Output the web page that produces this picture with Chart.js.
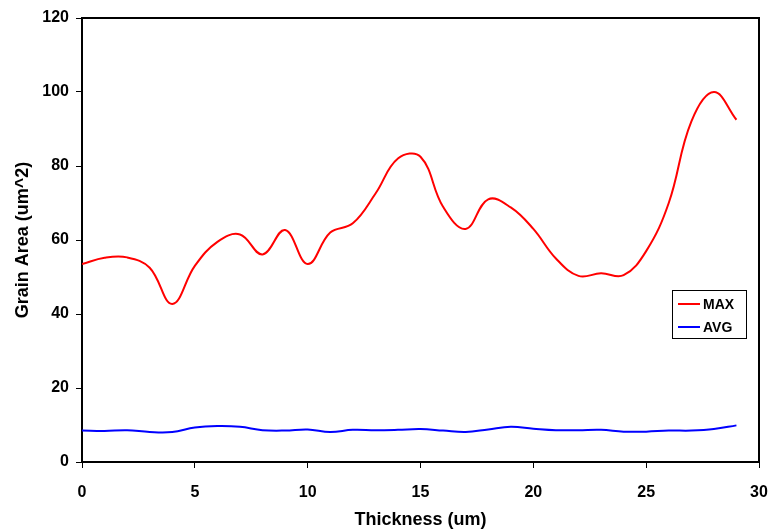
<!DOCTYPE html>
<html>
<head>
<meta charset="utf-8">
<script src="https://cdn.jsdelivr.net/npm/chart.js@4"></script>
<style>
    html, body { margin: 0; padding: 0; background: #fff; }
    #wrap { width: 770px; height: 529px; }
</style>
</head>
<body>
<div id="wrap"><canvas id="grainChart" width="770" height="529"></canvas></div>
<script>
// thickness positions (um)
const thickness = [0, 1, 2, 3, 4, 5, 6, 7, 8, 9, 10, 11, 12, 13, 14,
    15, 16, 17, 18, 19, 20, 21, 22, 23, 24, 25, 26, 27, 28, 29];

const maxArea = [53.5, 55.2, 55.3, 52.5, 42.7, 53, 59.5, 61.5, 56.1, 62.7,
    53.5, 62, 64.5, 72.5, 82, 82.5, 69, 63, 71, 68.8,
    63, 55, 50.3, 51, 50.5, 57, 70, 92, 100, 92.5];

const avgArea = [8.5, 8.4, 8.6, 8.1, 8.1, 9.3, 9.7, 9.5, 8.6, 8.5,
    8.8, 8.1, 8.7, 8.6, 8.7, 8.9, 8.5, 8.1, 8.8, 9.5,
    9.0, 8.6, 8.6, 8.7, 8.2, 8.2, 8.5, 8.5, 8.9, 9.9];

const xTicks = [0, 5, 10, 15, 20, 25, 30];
const yTicks = [0, 20, 40, 60, 80, 100, 120];

const FONT = "'Liberation Sans', Arial, sans-serif";
Chart.defaults.font.family = FONT;
Chart.defaults.color = '#000';

function pts(ys) {
    return thickness.map((x, i) => ({ x: x, y: ys[i] }));
}

// plot frame + legend box inside the chart area
const framePlugin = {
    id: 'frame',
    afterDraw(chart) {
        const ctx = chart.ctx;
        const a = chart.chartArea;
        ctx.save();
        ctx.strokeStyle = '#000';
        ctx.lineWidth = 2;
        ctx.beginPath();
        ctx.moveTo(a.left, a.top);
        ctx.lineTo(a.right, a.top);
        ctx.lineTo(a.right, a.bottom);
        ctx.stroke();

        // legend
        const lx = 672, ly = 290, lw = 74, lh = 48;
        ctx.fillStyle = '#fff';
        ctx.fillRect(lx, ly, lw, lh);
        ctx.lineWidth = 1;
        ctx.strokeRect(lx + 0.5, ly + 0.5, lw, lh);
        ctx.font = 'bold 14px ' + FONT;
        ctx.textBaseline = 'middle';
        chart.data.datasets.forEach((ds, i) => {
            const y = ly + 14 + i * 23;
            ctx.strokeStyle = ds.borderColor;
            ctx.lineWidth = 2;
            ctx.beginPath();
            ctx.moveTo(lx + 6, y);
            ctx.lineTo(lx + 28, y);
            ctx.stroke();
            ctx.fillStyle = '#000';
            ctx.fillText(ds.label, lx + 31, y + 1);
        });
        ctx.restore();
    }
};

new Chart(document.getElementById('grainChart'), {
    type: 'line',
    data: {
        datasets: [
            {
                label: 'MAX',
                data: pts(maxArea),
                borderColor: '#ff0000',
                borderWidth: 2,
                pointRadius: 0,
                tension: 0.4,
                fill: false
            },
            {
                label: 'AVG',
                data: pts(avgArea),
                borderColor: '#0000ff',
                borderWidth: 2,
                pointRadius: 0,
                tension: 0.4,
                fill: false
            }
        ]
    },
    options: {
        responsive: false,
        animation: false,
        layout: { padding: { top: 18, right: 11, left: 0, bottom: 0 } },
        plugins: {
            legend: { display: false },
            tooltip: { enabled: false }
        },
        scales: {
            x: {
                type: 'linear',
                min: 0,
                max: 30,
                afterBuildTicks: s => { s.ticks = xTicks.map(v => ({ value: v })); },
                afterFit: s => { s.height = 67; s.paddingRight = 0; s.paddingLeft = 0; },
                grid: { drawOnChartArea: false, drawTicks: true, tickLength: 6, color: '#000', lineWidth: 1 },
                border: { display: true, color: '#000', width: 2 },
                ticks: { font: { size: 16, weight: 'bold' }, padding: 15, maxRotation: 0 },
                title: {
                    display: true,
                    text: 'Thickness (um)',
                    font: { size: 18, weight: 'bold' },
                    padding: { top: 0, bottom: -2 }
                }
            },
            y: {
                min: 0,
                max: 120,
                afterBuildTicks: s => { s.ticks = yTicks.map(v => ({ value: v })); },
                afterFit: s => { s.width = 82; },
                grid: { drawOnChartArea: false, drawTicks: true, tickLength: 6, color: '#000', lineWidth: 1 },
                border: { display: true, color: '#000', width: 2 },
                ticks: { font: { size: 16, weight: 'bold' }, padding: 7 },
                title: {
                    display: true,
                    text: 'Grain Area (um^2)',
                    font: { size: 18, weight: 'bold' },
                    padding: { top: 12, bottom: 0 }
                }
            }
        }
    },
    plugins: [framePlugin]
});
</script>
</body>
</html>
